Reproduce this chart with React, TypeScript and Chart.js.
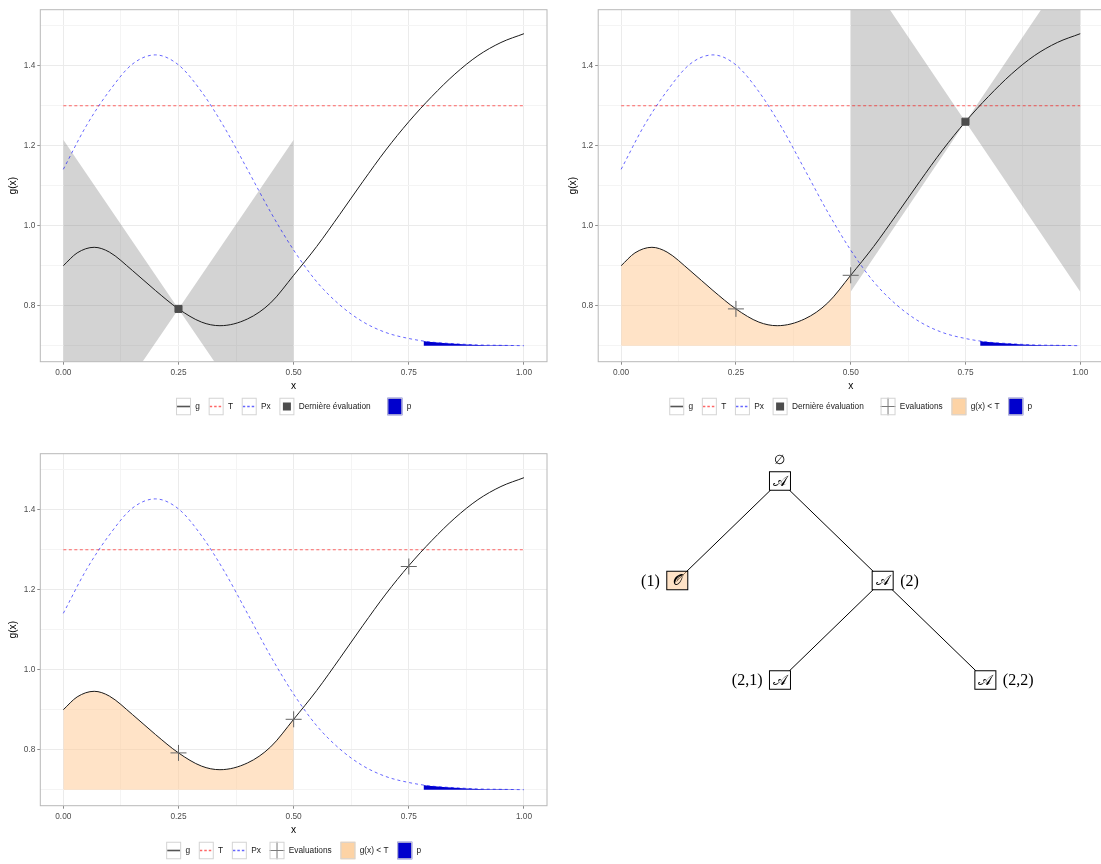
import React, { useEffect, useRef } from "react";
import { Chart, registerables } from "chart.js";
Chart.register(...registerables);

// ---------------- data ----------------
const X_MAJOR = [0, 0.25, 0.5, 0.75, 1];
const X_MINOR = [0.125, 0.375, 0.625, 0.875];
const Y_MAJOR = [0.8, 1.0, 1.2, 1.4];
const Y_MINOR = [0.7, 0.9, 1.1, 1.3, 1.5];
const X_LIMITS = [-0.05, 1.05];
const Y_LIMITS = [0.66, 1.54];

// g(x)
const G_X = [0, 0.03, 0.067, 0.1, 0.15, 0.2, 0.25, 0.3, 0.34, 0.4, 0.45, 0.5, 0.55, 0.6, 0.65, 0.7, 0.75, 0.8, 0.85, 0.9, 0.95, 1];
const G_Y = [0.9, 0.932, 0.946, 0.934, 0.888, 0.838, 0.792, 0.759, 0.75, 0.767, 0.807, 0.876, 0.948, 1.028, 1.11, 1.189, 1.26, 1.323, 1.379, 1.425, 1.458, 1.48];

// Px (density curve)
const PX_X = [0, 0.05, 0.1, 0.15, 0.2, 0.25, 0.3, 0.35, 0.4, 0.45, 0.5, 0.55, 0.6, 0.65, 0.7, 0.75, 0.8, 0.85, 0.9, 0.95, 1];
const PX_Y = [1.141, 1.25, 1.337, 1.404, 1.427, 1.402, 1.335, 1.245, 1.14, 1.034, 0.939, 0.86, 0.802, 0.76, 0.733, 0.718, 0.709, 0.705, 0.702, 0.701, 0.7];

// threshold T
const THRESHOLD_T = 1.3;
const T_X = [0, 1];

// p : area under Px where g(x) > T
const P_X = [0.782, 0.8, 0.85, 0.9, 0.95, 1];
const P_Y = [0.712, 0.709, 0.705, 0.702, 0.701, 0.7];
const AREA_BASE = 0.7;

// g(x) < T region (known part)
const BELOW_T_END = 0.5;

// uncertainty ribbons
const RIBBON1_X = [0, 0.25, 0.5];
const RIBBON1_HI = [1.215, 0.792, 1.215];
const RIBBON1_LO = [0.369, 0.792, 0.369];
const RIBBON2_X = [0.5, 0.75, 1];
const RIBBON2_HI = [1.685, 1.26, 1.685];
const RIBBON2_LO = [0.835, 1.26, 0.835];

// evaluations
const LAST1_X = [0.25];
const LAST1_Y = [0.792];
const EVALS2_X = [0.25, 0.5];
const EVALS2_Y = [0.792, 0.876];
const LAST2_X = [0.75];
const LAST2_Y = [1.26];
const EVALS3_X = [0.25, 0.5, 0.75];
const EVALS3_Y = [0.792, 0.876, 1.258];

// legends (groups of entries)
const LEGEND1 = [["g", "T", "Px", "Dernière évaluation"], ["p"]];
const LEGEND2 = [["g", "T", "Px", "Dernière évaluation"], ["Evaluations", "g(x) < T", "p"]];
const LEGEND3 = [["g", "T", "Px", "Evaluations", "g(x) < T", "p"]];

// tree
const TREE_NAMES = ["∅", "(1)", "(2)", "(2,1)", "(2,2)"];
const TREE_POS = [0, -1, 1, 0, 2];
const TREE_DEPTH = [0, 1, 1, 2, 2];
const TREE_PARENT = [-1, 0, 0, 2, 2];
const TREE_SYMBOL = ["𝒜", "𝒪", "𝒜", "𝒜", "𝒜"];
const TREE_LABEL_SIDE = ["above", "left", "right", "left", "right"];
const TREE_BELOW_T = [false, true, false, false, false];

// ---------------- styles ----------------
const SANS = '"Liberation Sans", Arial, sans-serif';
const SERIF = '"Liberation Serif", "DejaVu Serif", serif';
const STYLE = {
  g: "#1A1A1A",
  t: "rgba(255,0,0,0.6)",
  px: "rgba(0,0,255,0.6)",
  ribbon: "rgba(110,110,110,0.3)",
  peach: "rgba(255,204,153,0.55)",
  peachKey: "#FDD3A5",
  p: "#0000CD",
  last: "#4D4D4D",
  evals: "#666666",
  border: "#B8B8B8",
  gridMajor: "#EBEBEB",
  gridMinor: "#F4F4F4",
  tickMark: "#8C8C8C",
  tickText: "#4D4D4D",
  keyBorder: "#D4D4D4",
};

const LEGEND_KEY_KIND: Record<string, string> = {
  g: "line-g",
  T: "line-t",
  Px: "line-px",
  "Dernière évaluation": "square",
  Evaluations: "cross",
  "g(x) < T": "fill-peach",
  p: "fill-p",
};

const pts = (xs: number[], ys: number[]) => xs.map((x, i) => ({ x, y: ys[i] }));
const near = (list: number[], v: any) => typeof v === "number" && list.some((m) => Math.abs(m - v) < 1e-9);

const panelBorderPlugin = {
  id: "panelBorder",
  afterDatasetsDraw(chart: any) {
    const { ctx, chartArea: a } = chart;
    ctx.save();
    ctx.strokeStyle = STYLE.border;
    ctx.lineWidth = 1;
    ctx.strokeRect(a.left, a.top, a.right - a.left, a.bottom - a.top);
    ctx.restore();
  },
};

function drawKey(ctx: CanvasRenderingContext2D, label: string, x: number, y: number, w: number, h: number) {
  const kind = LEGEND_KEY_KIND[label];
  const cx = x + w / 2;
  const cy = y + h / 2;
  ctx.save();
  ctx.fillStyle = "#fff";
  ctx.fillRect(x, y, w, h);
  if (kind === "fill-peach" || kind === "fill-p") {
    ctx.fillStyle = kind === "fill-p" ? STYLE.p : STYLE.peachKey;
    ctx.fillRect(x, y, w, h);
  } else if (kind.startsWith("line")) {
    ctx.beginPath();
    if (kind === "line-g") {
      ctx.strokeStyle = "#555";
      ctx.lineWidth = 1.6;
      ctx.setLineDash([]);
    } else {
      ctx.strokeStyle = kind === "line-t" ? STYLE.t : STYLE.px;
      ctx.lineWidth = 1.4;
      ctx.setLineDash([2.5, 2]);
    }
    ctx.moveTo(x + 1, cy);
    ctx.lineTo(x + w - 1, cy);
    ctx.stroke();
    ctx.setLineDash([]);
  } else if (kind === "square") {
    ctx.fillStyle = STYLE.last;
    ctx.fillRect(cx - 4, cy - 4, 8, 8);
  } else if (kind === "cross") {
    ctx.strokeStyle = "#7A7A7A";
    ctx.lineWidth = 1;
    ctx.beginPath();
    ctx.moveTo(x, cy);
    ctx.lineTo(x + w, cy);
    ctx.moveTo(cx, y);
    ctx.lineTo(cx, y + h);
    ctx.stroke();
  }
  ctx.strokeStyle = STYLE.keyBorder;
  ctx.lineWidth = 1;
  ctx.strokeRect(x + 0.5, y + 0.5, w - 1, h - 1);
  ctx.restore();
}

function makeLegendPlugin(groups: string[][], legendY: number) {
  return {
    id: "ggLegend",
    afterDraw(chart: any) {
      const ctx: CanvasRenderingContext2D = chart.ctx;
      const keyW = 15, keyH = 17.5, keyGap = 4.3, itemGap = 8.7, groupGap = 16.7;
      ctx.save();
      ctx.font = `8.3px ${SANS}`;
      let total = 0;
      groups.forEach((g, gi) => {
        g.forEach((lab, li) => {
          total += keyW + keyGap + ctx.measureText(lab).width;
          if (li < g.length - 1) total += itemGap;
        });
        if (gi < groups.length - 1) total += groupGap;
      });
      const a = chart.chartArea;
      let x = (a.left + a.right) / 2 - total / 2;
      groups.forEach((g, gi) => {
        g.forEach((lab, li) => {
          drawKey(ctx, lab, x, legendY - keyH / 2, keyW, keyH);
          x += keyW + keyGap;
          ctx.fillStyle = "#1A1A1A";
          ctx.textAlign = "left";
          ctx.textBaseline = "middle";
          ctx.fillText(lab, x, legendY + 0.5);
          x += ctx.measureText(lab).width;
          if (li < g.length - 1) x += itemGap;
        });
        if (gi < groups.length - 1) x += groupGap;
      });
      ctx.restore();
    },
  };
}

type Series = { x: number[]; y: number[] };
type PlotSpec = {
  ribbon?: { x: number[]; hi: number[]; lo: number[] };
  below?: boolean;
  evals?: Series;
  last?: Series;
  legend: string[][];
};
type Box = {
  left: number; top: number; width: number; height: number;
  padTop: number; padRight: number; padBottom: number;
  yAxisW: number; xAxisH: number; legendY: number;
};

function plotConfig(spec: PlotSpec, box: Box): any {
  const ds: any[] = [];
  const clear = "rgba(0,0,0,0)";
  if (spec.last) {
    ds.push({
      label: "Dernière évaluation", data: pts(spec.last.x, spec.last.y), showLine: false,
      pointStyle: "rect", pointRadius: 5, pointBackgroundColor: STYLE.last, pointBorderColor: STYLE.last, pointBorderWidth: 1,
    });
  }
  if (spec.evals) {
    ds.push({
      label: "Evaluations", data: pts(spec.evals.x, spec.evals.y), showLine: false,
      pointStyle: "cross", pointRadius: 8, pointBorderColor: STYLE.evals, pointBorderWidth: 1,
    });
  }
  ds.push({
    label: "g", data: pts(G_X, G_Y), borderColor: STYLE.g, borderWidth: 1, pointRadius: 0,
    cubicInterpolationMode: "monotone", fill: false,
  });
  ds.push({
    label: "Px", data: pts(PX_X, PX_Y), borderColor: STYLE.px, borderWidth: 1, borderDash: [3, 3], pointRadius: 0,
    cubicInterpolationMode: "monotone", fill: false,
  });
  ds.push({
    label: "T", data: pts(T_X, T_X.map(() => THRESHOLD_T)), borderColor: STYLE.t, borderWidth: 1.1,
    borderDash: [3, 2.5], pointRadius: 0, fill: false,
  });
  ds.push({
    label: "p", data: pts(P_X, P_Y), borderColor: clear, borderWidth: 0, backgroundColor: STYLE.p,
    pointRadius: 0, cubicInterpolationMode: "monotone", fill: { value: AREA_BASE },
  });
  if (spec.ribbon) {
    ds.push({
      label: "ribbon-hi", data: pts(spec.ribbon.x, spec.ribbon.hi), borderColor: clear, borderWidth: 0,
      pointRadius: 0, backgroundColor: STYLE.ribbon, fill: "+1", tension: 0,
    });
    ds.push({
      label: "ribbon-lo", data: pts(spec.ribbon.x, spec.ribbon.lo), borderColor: clear, borderWidth: 0,
      pointRadius: 0, fill: false, tension: 0,
    });
  }
  if (spec.below) {
    const n = G_X.filter((x) => x <= BELOW_T_END).length;
    ds.push({
      label: "g(x) < T", data: pts(G_X.slice(0, n), G_Y.slice(0, n)), borderColor: clear, borderWidth: 0,
      backgroundColor: STYLE.peach, pointRadius: 0, cubicInterpolationMode: "monotone", fill: { value: AREA_BASE },
    });
  }

  const tickFont = { family: SANS, size: 8.3 };
  const titleFont = { family: SANS, size: 10.2 };
  const gridFor = (major: number[]) => ({
    color: (c: any) => (near(major, c.tick && c.tick.value) ? STYLE.gridMajor : STYLE.gridMinor),
    lineWidth: 1,
    tickLength: 3,
    drawTicks: true,
    tickColor: (c: any) => (near(major, c.tick && c.tick.value) ? STYLE.tickMark : "rgba(0,0,0,0)"),
  });

  return {
    type: "line",
    data: { datasets: ds },
    options: {
      animation: false,
      responsive: false,
      devicePixelRatio: 1,
      events: [],
      layout: { padding: { left: 0, top: box.padTop, right: box.padRight, bottom: box.padBottom } },
      plugins: { legend: { display: false }, tooltip: { enabled: false } },
      scales: {
        x: {
          type: "linear",
          min: X_LIMITS[0],
          max: X_LIMITS[1],
          afterBuildTicks: (s: any) => {
            s.ticks = [...X_MAJOR, ...X_MINOR].sort((a, b) => a - b).map((value) => ({ value }));
          },
          afterFit: (s: any) => { s.height = box.xAxisH; },
          ticks: {
            autoSkip: false, maxRotation: 0, minRotation: 0, padding: 3, color: STYLE.tickText, font: tickFont,
            callback: (v: any) => (near(X_MAJOR, v) ? Number(v).toFixed(2) : ""),
          },
          grid: gridFor(X_MAJOR),
          border: { display: false },
          title: { display: true, text: "x", color: "#000", font: titleFont, padding: 0 },
        },
        y: {
          type: "linear",
          min: Y_LIMITS[0],
          max: Y_LIMITS[1],
          afterBuildTicks: (s: any) => {
            s.ticks = [...Y_MAJOR, ...Y_MINOR].sort((a, b) => a - b).map((value) => ({ value }));
          },
          afterFit: (s: any) => { s.width = box.yAxisW; },
          ticks: {
            autoSkip: false, padding: 2, color: STYLE.tickText, font: tickFont,
            callback: (v: any) => (near(Y_MAJOR, v) ? Number(v).toFixed(1) : ""),
          },
          grid: gridFor(Y_MAJOR),
          border: { display: false },
          title: { display: true, text: "g(x)", color: "#000", font: titleFont, padding: { top: 7, bottom: 0 } },
        },
      },
    },
    plugins: [panelBorderPlugin, makeLegendPlugin(spec.legend, box.legendY)],
  };
}

const treeNodesPlugin = {
  id: "treeNodes",
  afterDatasetsDraw(chart: any) {
    const { ctx } = chart;
    const sx = chart.scales.x;
    const sy = chart.scales.y;
    const bw = 21, bh = 18.5;
    ctx.save();
    TREE_NAMES.forEach((name, i) => {
      const px = sx.getPixelForValue(TREE_POS[i]);
      const py = sy.getPixelForValue(TREE_DEPTH[i]);
      ctx.fillStyle = TREE_BELOW_T[i] ? STYLE.peach : "#fff";
      ctx.fillRect(px - bw / 2, py - bh / 2, bw, bh);
      ctx.strokeStyle = "#000";
      ctx.lineWidth = 1;
      ctx.strokeRect(px - bw / 2, py - bh / 2, bw, bh);
      ctx.fillStyle = "#000";
      ctx.textAlign = "center";
      ctx.textBaseline = "middle";
      ctx.font = `15px ${SERIF}`;
      ctx.fillText(TREE_SYMBOL[i], px, py + 1);
      ctx.font = `16px ${SERIF}`;
      const side = TREE_LABEL_SIDE[i];
      if (side === "above") {
        ctx.font = `13px ${SERIF}`;
        ctx.fillText(name, px, py - bh / 2 - 11);
      } else if (side === "left") {
        ctx.textAlign = "right";
        ctx.fillText(name, px - bw / 2 - 7, py + 1);
      } else {
        ctx.textAlign = "left";
        ctx.fillText(name, px + bw / 2 + 7, py + 1);
      }
    });
    ctx.restore();
  },
};

function treeConfig(): any {
  const datasets = TREE_PARENT.map((p, i) => (p < 0 ? null : {
    label: `edge-${i}`,
    data: [
      { x: TREE_POS[p], y: TREE_DEPTH[p] },
      { x: TREE_POS[i], y: TREE_DEPTH[i] },
    ],
    borderColor: "#000",
    borderWidth: 1,
    pointRadius: 0,
    tension: 0,
    fill: false,
  })).filter(Boolean);
  return {
    type: "line",
    data: { datasets },
    options: {
      animation: false,
      responsive: false,
      devicePixelRatio: 1,
      events: [],
      layout: { padding: 0 },
      plugins: { legend: { display: false }, tooltip: { enabled: false } },
      scales: {
        x: { type: "linear", display: false, min: -2.142, max: 3.126 },
        y: { type: "linear", display: false, reverse: true, min: -0.412, max: 3.849 },
      },
    },
    plugins: [treeNodesPlugin],
  };
}

function ChartCanvas(props: { make: () => any; left: number; top: number; width: number; height: number }) {
  const ref = useRef<HTMLCanvasElement | null>(null);
  useEffect(() => {
    if (!ref.current) return;
    const chart = new Chart(ref.current, props.make());
    return () => chart.destroy();
  }, []);
  return (
    <canvas
      ref={ref}
      width={props.width}
      height={props.height}
      style={{ position: "absolute", left: props.left, top: props.top, width: props.width, height: props.height }}
    />
  );
}

const BOX1: Box = { left: 0, top: 0, width: 560, height: 430, padTop: 9.7, padRight: 13, padBottom: 37.3, yAxisW: 40.3, xAxisH: 31, legendY: 406.5 };
const BOX2: Box = { left: 560, top: 0, width: 560, height: 430, padTop: 9.7, padRight: 16.8, padBottom: 37.3, yAxisW: 38.2, xAxisH: 31, legendY: 406.5 };
const BOX3: Box = { left: 0, top: 444, width: 560, height: 420, padTop: 9.7, padRight: 13, padBottom: 27.3, yAxisW: 40.3, xAxisH: 31, legendY: 406.5 };

export default function App() {
  return (
    <div style={{ position: "fixed", left: 0, top: 0, width: 1101, height: 864, overflow: "hidden", background: "#fff" }}>
      <ChartCanvas
        {...BOX1}
        make={() => plotConfig({ ribbon: { x: RIBBON1_X, hi: RIBBON1_HI, lo: RIBBON1_LO }, last: { x: LAST1_X, y: LAST1_Y }, legend: LEGEND1 }, BOX1)}
      />
      <ChartCanvas
        {...BOX2}
        make={() => plotConfig({ ribbon: { x: RIBBON2_X, hi: RIBBON2_HI, lo: RIBBON2_LO }, below: true, evals: { x: EVALS2_X, y: EVALS2_Y }, last: { x: LAST2_X, y: LAST2_Y }, legend: LEGEND2 }, BOX2)}
      />
      <ChartCanvas
        {...BOX3}
        make={() => plotConfig({ below: true, evals: { x: EVALS3_X, y: EVALS3_Y }, legend: LEGEND3 }, BOX3)}
      />
      <ChartCanvas left={560} top={440} width={541} height={424} make={treeConfig} />
    </div>
  );
}
